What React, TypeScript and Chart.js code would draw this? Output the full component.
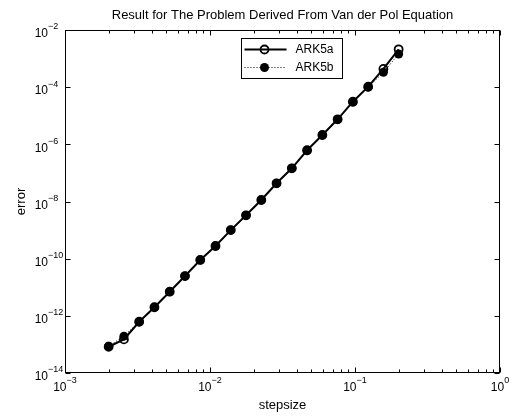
import React, { useEffect, useRef } from "react";
import { Chart, registerables } from "chart.js";

Chart.register(...registerables);

// ---- data ----
const stepsize = [
  0.002, 0.002549, 0.003248, 0.004139, 0.005274, 0.006721, 0.008565, 0.010914,
  0.013908, 0.017723, 0.022585, 0.02878, 0.036675, 0.046735, 0.059556, 0.075893,
  0.096712, 0.123242, 0.157049, 0.2,
];
const errorARK5a = [
  8.3e-14, 1.5e-13, 6.2e-13, 2.0e-12, 7.0e-12, 2.47e-11, 9.0e-11, 2.77e-10,
  1.0e-9, 3.29e-9, 1.13e-8, 4.33e-8, 1.45e-7, 6.2e-7, 2.12e-6, 7.5e-6,
  3.1e-5, 1.04e-4, 4.33e-4, 2.11e-3,
];
const errorARK5b = [
  8.6e-14, 1.95e-13, 6.2e-13, 2.0e-12, 7.0e-12, 2.47e-11, 9.0e-11, 2.77e-10,
  1.0e-9, 3.29e-9, 1.13e-8, 4.33e-8, 1.45e-7, 6.0e-7, 2.1e-6, 7.4e-6,
  3.0e-5, 1.0e-4, 3.3e-4, 1.45e-3,
];
const seriesLabels = ["ARK5a", "ARK5b"];
const xMajorTicks = [1e-3, 1e-2, 1e-1, 1e0];
const xMinorMultipliers = [2, 3, 4, 5, 6, 7, 8, 9];
const yMajorTicks = [1e-14, 1e-12, 1e-10, 1e-8, 1e-6, 1e-4, 1e-2];
const titleText = "Result for The Problem Derived From Van der Pol Equation";
const xTitle = "stepsize";
const yTitle = "error";

const FONT = "'Liberation Sans', Arial, Helvetica, sans-serif";

function drawPow(ctx: CanvasRenderingContext2D, exp: number, x: number, y: number, align: "center" | "rightBase") {
  const base = "10";
  const e = String(exp).replace("-", "\u2212");
  ctx.font = `12px ${FONT}`;
  const wb = ctx.measureText(base).width;
  ctx.font = `9px ${FONT}`;
  const we = ctx.measureText(e).width;
  let bx: number;
  if (align === "center") bx = x - (wb + we) / 2;
  else bx = x - wb;
  ctx.textAlign = "left";
  ctx.textBaseline = "middle";
  ctx.font = `12px ${FONT}`;
  ctx.fillText(base, bx, y + 4);
  ctx.font = `9px ${FONT}`;
  ctx.fillText(e, bx + wb, y - 3);
}

const matlabPlugin = {
  id: "matlabAxes",
  afterDraw(chart: any) {
    const ctx: CanvasRenderingContext2D = chart.ctx;
    const { left, right, top, bottom } = chart.chartArea;
    const xs = chart.scales.x;
    const ys = chart.scales.y;
    ctx.save();
    ctx.strokeStyle = "#000";
    ctx.fillStyle = "#000";
    ctx.lineWidth = 1;
    const L = Math.round(left) + 0.5;
    const R = Math.round(right) - 0.5;
    const T = Math.round(top) + 0.5;
    const B = Math.round(bottom) - 0.5;
    ctx.strokeRect(L, T, R - L, B - T);

    // x ticks
    const xTicks: { v: number; major: boolean }[] = [];
    xMajorTicks.forEach((v, i) => {
      xTicks.push({ v, major: true });
      if (i < xMajorTicks.length - 1) xMinorMultipliers.forEach((m) => xTicks.push({ v: v * m, major: false }));
    });
    ctx.beginPath();
    xTicks.forEach((t) => {
      const px = Math.round(xs.getPixelForValue(t.v)) + 0.5;
      const len = t.major ? 5 : 3;
      ctx.moveTo(px, B);
      ctx.lineTo(px, B - len);
      ctx.moveTo(px, T);
      ctx.lineTo(px, T + len);
    });
    yMajorTicks.forEach((v) => {
      const py = Math.round(ys.getPixelForValue(v)) + 0.5;
      ctx.moveTo(L, py);
      ctx.lineTo(L + 5, py);
      ctx.moveTo(R, py);
      ctx.lineTo(R - 5, py);
    });
    ctx.stroke();

    // tick labels
    xMajorTicks.forEach((v) => {
      const px = xs.getPixelForValue(v);
      drawPow(ctx, Math.round(Math.log10(v)), px, bottom + 11, "center");
    });
    yMajorTicks.forEach((v) => {
      const py = ys.getPixelForValue(v);
      drawPow(ctx, Math.round(Math.log10(v)), left - 17, py, "rightBase");
    });

    // titles
    ctx.font = `13px ${FONT}`;
    ctx.textAlign = "center";
    ctx.textBaseline = "middle";
    ctx.fillText(titleText, (left + right) / 2, 15);
    ctx.fillText(xTitle, (left + right) / 2, 405);
    ctx.save();
    ctx.translate(21, (top + bottom) / 2);
    ctx.rotate(-Math.PI / 2);
    ctx.fillText(yTitle, 0, 0);
    ctx.restore();

    // legend
    const bx0 = 241.5, by0 = 38.5, bw = 101, bh = 40;
    ctx.fillStyle = "#fff";
    ctx.fillRect(bx0, by0, bw, bh);
    ctx.strokeStyle = "#000";
    ctx.lineWidth = 1;
    ctx.strokeRect(bx0, by0, bw, bh);
    chart.data.datasets.forEach((ds: any, i: number) => {
      const ry = by0 + 11 + i * 18;
      ctx.save();
      ctx.strokeStyle = "#000";
      ctx.lineWidth = ds.borderWidth;
      ctx.setLineDash(ds.borderDash || []);
      ctx.beginPath();
      ctx.moveTo(bx0 + 3, ry);
      ctx.lineTo(bx0 + 45, ry);
      ctx.stroke();
      ctx.setLineDash([]);
      ctx.beginPath();
      ctx.arc(bx0 + 23, ry, ds.pointRadius, 0, Math.PI * 2);
      ctx.fillStyle = ds.pointBackgroundColor;
      ctx.fill();
      ctx.lineWidth = ds.pointBorderWidth;
      ctx.strokeStyle = ds.pointBorderColor;
      if (ds.pointBorderWidth > 0) ctx.stroke();
      ctx.restore();
      ctx.fillStyle = "#000";
      ctx.font = `12px ${FONT}`;
      ctx.textAlign = "left";
      ctx.textBaseline = "middle";
      ctx.fillText(ds.label, bx0 + 54, ry);
    });
    ctx.restore();
  },
};

export default function App() {
  const ref = useRef<HTMLCanvasElement>(null);
  useEffect(() => {
    if (!ref.current) return;
    const chart = new Chart(ref.current, {
      type: "line",
      data: {
        datasets: [
          {
            label: seriesLabels[0],
            data: stepsize.map((x, i) => ({ x, y: errorARK5a[i] })),
            borderColor: "#000",
            borderWidth: 2,
            pointRadius: 4,
            pointBorderWidth: 1.8,
            pointBorderColor: "#000",
            pointBackgroundColor: "rgba(0,0,0,0)",
            tension: 0,
          },
          {
            label: seriesLabels[1],
            data: stepsize.map((x, i) => ({ x, y: errorARK5b[i] })),
            borderColor: "#000",
            borderWidth: 1,
            borderDash: [1, 2],
            pointRadius: 4.5,
            pointBorderWidth: 0,
            pointBorderColor: "#000",
            pointBackgroundColor: "#000",
            tension: 0,
          },
        ],
      },
      options: {
        responsive: false,
        animation: false,
        devicePixelRatio: 1,
        layout: { padding: { left: 65, right: 17, top: 30, bottom: 43 } },
        plugins: { legend: { display: false }, title: { display: false }, tooltip: { enabled: false } },
        scales: {
          x: { type: "logarithmic", min: 1e-3, max: 1, display: false },
          y: { type: "logarithmic", min: 1e-14, max: 1e-2, display: false },
        },
      },
      plugins: [matlabPlugin],
    });
    return () => chart.destroy();
  }, []);
  return (
    <div style={{ position: "absolute", left: 0, top: 0, width: 517, height: 416, background: "#fff" }}>
      <canvas ref={ref} width={517} height={416} style={{ display: "block" }} />
    </div>
  );
}
